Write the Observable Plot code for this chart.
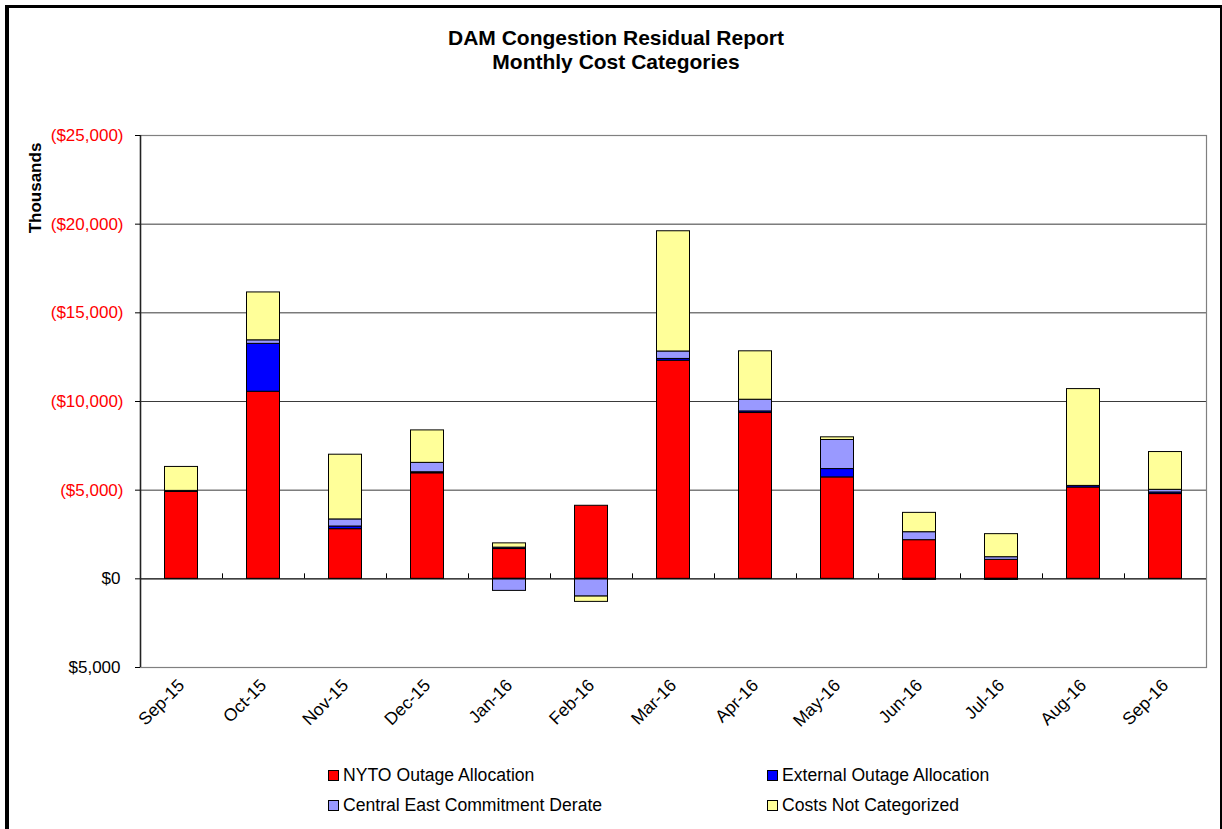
<!DOCTYPE html>
<html>
<head>
<meta charset="utf-8">
<script src="https://cdn.jsdelivr.net/npm/d3@7"></script>
<script src="https://cdn.jsdelivr.net/npm/@observablehq/plot@0.6"></script>
<style>
  html, body { margin: 0; padding: 0; background: #fff; overflow: hidden; }
  body { width: 1222px; height: 829px; position: relative; font-family: "Liberation Sans", Arial, sans-serif; }
  #border { position: absolute; left: 5px; top: 5px; width: 1211px; height: 900px;
            border-left: 4px solid #000; border-top: 3px solid #000; border-right: 2px solid #000; }
  #chart { position: absolute; left: 0; top: 0; }
  .title { position: absolute; left: 0; width: 1232px; text-align: center; font-weight: bold; font-size: 21px; color: #000; }
  .ylabel { position: absolute; left: 36px; top: 188px; transform: translate(-50%, -50%) rotate(-90deg);
            font-weight: bold; font-size: 17px; white-space: nowrap; }
  .leg { position: absolute; font-size: 17.6px; white-space: nowrap; display: flex; align-items: center; }
  .leg .sw { width: 9px; height: 9px; border: 1px solid #000; margin-right: 4px; box-sizing: content-box; }
</style>
</head>
<body>
<div id="border"></div>
<div id="chart"></div>
<div class="title" style="top:26px">DAM Congestion Residual Report</div>
<div class="title" style="top:50px">Monthly Cost Categories</div>
<div class="ylabel">Thousands</div>
<div id="legend"></div>
<script>
// ---- data (thousands of dollars; positive = cost shown upward) ----
const months = ["Sep-15","Oct-15","Nov-15","Dec-15","Jan-16","Feb-16","Mar-16","Apr-16","May-16","Jun-16","Jul-16","Aug-16","Sep-16"];
const seriesNames = ["NYTO Outage Allocation","External Outage Allocation","Central East Commitment Derate","Costs Not Categorized"];
const seriesColors = ["#FF0000","#0000FF","#9999FF","#FFFF99"];
const nyto          = [4900, 10550, 2800, 5950, 1680, 4120, 12300, 9350, 5720, 2180, 1070, 5150, 4780];
const externalOut   = [60, 2700, 150, 60, 80, 0, 100, 90, 470, -60, -60, 90, 90];
const centralEast   = [0, 200, 400, 530, -680, -1000, 420, 660, 1640, 450, 150, 0, 150];
const notCategorized= [1350, 2700, 3650, 1830, 240, -300, 6780, 2730, 150, 1090, 1300, 5460, 2130];
const yTicks = [-5000, 0, 5000, 10000, 15000, 20000, 25000];

const seriesValues = [nyto, externalOut, centralEast, notCategorized];
const data = [];
seriesNames.forEach((s, i) => months.forEach((m, j) => data.push({month: m, series: s, value: seriesValues[i][j]})));

const fmt = d3.format(",");
const tickFmt = d => d > 0 ? `($${fmt(d)})` : `$${fmt(Math.abs(d))}`;

const W = 1222, H = 829, mL = 140, mR = 16, mT = 135, mB = 162;
const step = (W - mL - mR) / months.length;

const chart = Plot.plot({
  width: W, height: H,
  marginLeft: mL, marginRight: mR, marginTop: mT, marginBottom: mB,
  style: {fontFamily: "'Liberation Sans', Arial, sans-serif", background: "transparent"},
  x: {type: "band", domain: months, padding: 0, axis: null, label: null},
  y: {domain: [yTicks[0], yTicks[yTicks.length - 1]], axis: null, label: null},
  color: {domain: seriesNames, range: seriesColors},
  marks: [
    Plot.ruleY(yTicks.slice(2, -1), {stroke: "#3a3a3a", strokeWidth: 1}),
    Plot.frame({stroke: "#808080", strokeWidth: 1.2}),
    Plot.barY(data, {x: "month", y: "value", fill: "series", stroke: "#000", strokeWidth: 1,
                     insetLeft: 24.5, insetRight: 24.5}),
    Plot.ruleY([0], {stroke: "#000", strokeWidth: 1.2}),
    Plot.ruleX(months.slice(1), {x: d => d, y1: 0, y2: 0, dx: -step / 2, insetTop: -5, stroke: "#000"}),
    Plot.ruleX([months[0]], {x: d => d, y1: yTicks[0], y2: yTicks[yTicks.length - 1], dx: -step / 2, stroke: "#222", strokeWidth: 1.5}),
    Plot.axisY(yTicks.filter(d => d > 0), {tickSize: 5, tickPadding: 12, fill: "#FF0000", fontSize: 17, tickFormat: tickFmt, label: null}),
    Plot.axisY(yTicks.filter(d => d <= 0), {tickSize: 5, tickPadding: 15, fill: "#000", fontSize: 17, tickFormat: tickFmt, label: null}),
    Plot.axisX({tickRotate: -45, tickSize: 0, tickPadding: 15, fontSize: 17.5, fill: "#000", label: null})
  ]
});
document.getElementById("chart").appendChild(chart);

// legend
const legendPos = [[328, 765], [767, 765], [328, 795], [767, 795]];
const legend = document.getElementById("legend");
seriesNames.forEach((s, i) => {
  const el = document.createElement("div");
  el.className = "leg";
  el.style.left = legendPos[i][0] + "px";
  el.style.top = legendPos[i][1] + "px";
  el.innerHTML = `<span class="sw" style="background:${seriesColors[i]}"></span><span>${s}</span>`;
  legend.appendChild(el);
});
</script>
</body>
</html>
